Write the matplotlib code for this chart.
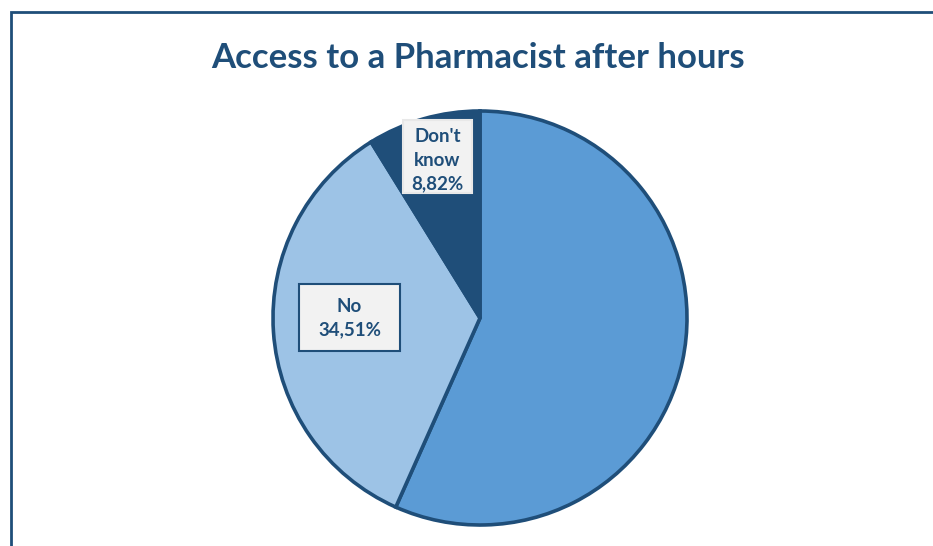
import matplotlib
matplotlib.use("Agg")
import matplotlib.pyplot as plt
from matplotlib.patches import Rectangle

# survey answers, share in percent
answers = ["Yes", "No", "Don't know"]
shares = [56.67, 34.51, 8.82]
slice_colors = ["#5B9BD5", "#9DC3E6", "#1F4E79"]
label_text = ["", "No\n34,51%", "Don't\nknow\n8,82%"]

dark = "#1F4E79"
W, H = 933, 546

fig = plt.figure(figsize=(W / 100, H / 100), dpi=100)
ax = fig.add_axes([0, 0, 1, 1])
ax.set_xlim(0, W)
ax.set_ylim(0, H)
ax.set_aspect("equal")
ax.axis("off")

# chart frame (open at the right and bottom edges)
ax.add_patch(Rectangle((11, -20), 960, H - 12 + 20, fill=False,
                       edgecolor=dark, linewidth=2, zorder=1))

cx, cy, r = 480, H - 318, 207
wedges, _ = ax.pie(shares, colors=slice_colors, startangle=90, counterclock=False,
                   center=(cx, cy), radius=r, frame=True,
                   wedgeprops=dict(edgecolor=dark, linewidth=2.6))
ax.set_xlim(0, W)
ax.set_ylim(0, H)
ax.axis("off")

ax.text(478, H - 58, "Access to a Pharmacist after hours", ha="center", va="center",
        fontsize=25, fontweight="bold", color=dark, family="Lato")

# data label boxes: (x center, y center, width, height, text y, edge colour)
boxes = {1: (349.5, H - 317.5, 101, 67, H - 318, dark),
         2: (437.5, H - 156.5, 69, 73, H - 160, "#E8E8E8")}
for i, (bx, by, bw, bh, ty, ec) in boxes.items():
    ax.add_patch(Rectangle((bx - bw / 2, by - bh / 2), bw, bh, facecolor="#F2F2F2",
                           edgecolor=ec, linewidth=1.5, zorder=5))
    ax.text(bx, ty, label_text[i], ha="center", va="center", fontsize=13.5,
            fontweight="bold", color=dark, family="Lato", linespacing=1.45, zorder=6)

fig.savefig("out.png", dpi=100)
